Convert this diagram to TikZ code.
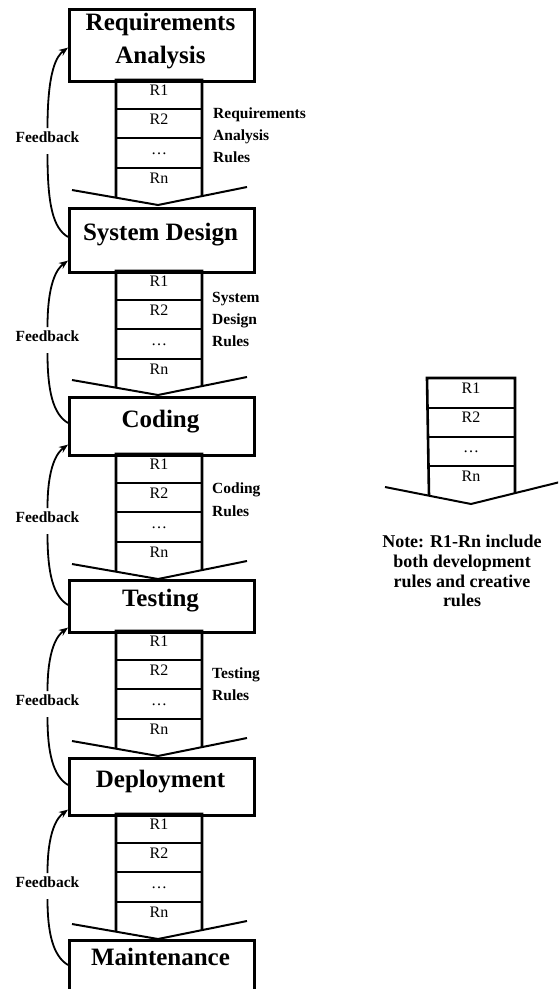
\documentclass[tikz,border=0pt]{standalone}
\usepackage{fontspec}
\setmainfont{Liberation Serif}
\usetikzlibrary{calc,arrows.meta}
\begin{document}
\begin{tikzpicture}[x=1pt,y=-1pt,
  phase/.style={draw, line width=2.6pt, minimum width=185pt, inner sep=0pt, anchor=north west},
  ttl/.style={font=\fontsize{25}{30}\selectfont\bfseries, inner sep=0pt, anchor=base},
  rt/.style={font=\fontsize{16}{19}\selectfont, inner sep=0pt, anchor=base},
  lbl/.style={font=\fontsize{15.5}{22}\selectfont\bfseries, inner sep=0pt, anchor=base west},
  fbl/.style={font=\fontsize{15.5}{19}\selectfont\bfseries, inner sep=0pt, anchor=base},
  notel/.style={font=\fontsize{18}{20}\selectfont\bfseries, inner sep=0pt, anchor=base},
  cell/.style={line width=2.6pt},
  vline/.style={line width=2pt},
  fb/.style={line width=1.8pt},
  fbarrow/.style={fb, -{Stealth[length=9pt,width=7pt]}},
]
\useasboundingbox (0,0) rectangle (558,989);
\clip (0,0) rectangle (558,989);
\fill[white] (0,0) rectangle (558,989);

% phase boxes
\node[phase, minimum height=72pt] (b1) at (68,8) {};
\node[phase, minimum height=64pt] (b2) at (68,207) {};
\node[phase, minimum height=58pt] (b3) at (68,396) {};
\node[phase, minimum height=52pt] (b4) at (68,579) {};
\node[phase, minimum height=57pt] (b5) at (68,757) {};
\node[phase, minimum height=80pt] (b6) at (68,939) {};

\node[ttl] (t1a) at (160.5,30) {Requirements};
\node[ttl] (t1b) at (160.5,63) {Analysis};
\node[ttl] (t2) at (160.5,240) {System Design};
\node[ttl] (t3) at (160.5,427) {Coding};
\node[ttl] (t4) at (160.5,606) {Testing};
\node[ttl] (t5) at (160.5,787) {Deployment};
\node[ttl] (t6) at (160.5,965) {Maintenance};

% rule stacks between phases
\foreach \n/\t/\c in {1/80/205, 2/271/395, 3/454/579, 4/631/756, 5/814/939} {
  \coordinate (vl\n) at (72,\c-15);
  \coordinate (vc\n) at (158,\c);
  \coordinate (vr\n) at (247,\c-18);
  \draw[cell] ($(vl\n)!0.5116!(vc\n)$) -- (116,\t) -- (202,\t) -- ($(vc\n)!0.4944!(vr\n)$);
  \draw[cell] (116,\t+29) -- (202,\t+29);
  \draw[cell] (116,\t+58) -- (202,\t+58);
  \draw[cell] (116,\t+88) -- (202,\t+88);
  \draw[vline] (vl\n) -- (vc\n) -- (vr\n);
  \node[rt] (ra\n) at (159,\t+15) {R1};
  \node[rt] (rb\n) at (159,\t+44) {R2};
  \node[rt] (rc\n) at (159,\t+74) {…};
  \node[rt] (rd\n) at (159,\t+103) {Rn};
}

% rule labels
\node[lbl] (l1a) at (213,118) {Requirements};
\node[lbl] (l1b) at (213,140) {Analysis};
\node[lbl] (l1c) at (213,162) {Rules};
\node[lbl] (l2a) at (212,302) {System};
\node[lbl] (l2b) at (212,324) {Design};
\node[lbl] (l2c) at (212,346) {Rules};
\node[lbl] (l3a) at (212,493) {Coding};
\node[lbl] (l3b) at (212,516) {Rules};
\node[lbl] (l4a) at (212,678) {Testing};
\node[lbl] (l4b) at (212,700) {Rules};

% feedback labels
\node[fbl] (f1) at (47.5,142) {Feedback};
\node[fbl] (f2) at (47.5,341) {Feedback};
\node[fbl] (f3) at (47.5,522) {Feedback};
\node[fbl] (f4) at (47.5,705) {Feedback};
\node[fbl] (f5) at (47.5,887) {Feedback};

% feedback curves
\foreach \i/\j/\ta/\sb in {1/2/35/30, 2/3/13/27, 3/4/12/26, 4/5/6/28, 5/6/7/26} {
  \coordinate (a\i) at ($(b\i.south west)+(0,-\ta)$);
  \coordinate (s\i) at ($(b\j.north west)+(0,\sb)$);
  \coordinate (u\i) at ($(f\i.base)+(0,-14)$);
  \coordinate (d\i) at ($(f\i.base)+(0,12)$);
  \draw[fbarrow] (u\i) .. controls ($(u\i |- a\i)+(0,22)$) and ($(a\i)+(-11,8)$) .. (a\i);
  \draw[fb] (d\i) .. controls ($(d\i |- s\i)+(0,-32)$) and ($(s\i)+(-15,-9)$) .. (s\i);
}

% legend stack
\coordinate (nl) at (385,487);
\coordinate (nc) at (471,504);
\coordinate (nr) at (560,482);
\draw[cell] ($(nl)!0.5116!(nc)$) -- (427,378) -- (515,378) -- ($(nc)!0.4944!(nr)$);
\draw[cell] (427,408) -- (515,408);
\draw[cell] (427,437) -- (515,437);
\draw[cell] (427,466) -- (515,466);
\draw[vline] (nl) -- (nc) -- (nr);
\node[rt] (na) at (471,393) {R1};
\node[rt] (nb) at (471,422) {R2};
\node[rt] (nd) at (471,452) {…};
\node[rt] (ne) at (471,481) {Rn};

\node[notel] (n1) at (462,547) {Note: R1-Rn include};
\node[notel] (n2) at (462,567) {both development};
\node[notel] (n3) at (462,587) {rules and creative};
\node[notel] (n4) at (462,606) {rules};
\end{tikzpicture}
\end{document}
